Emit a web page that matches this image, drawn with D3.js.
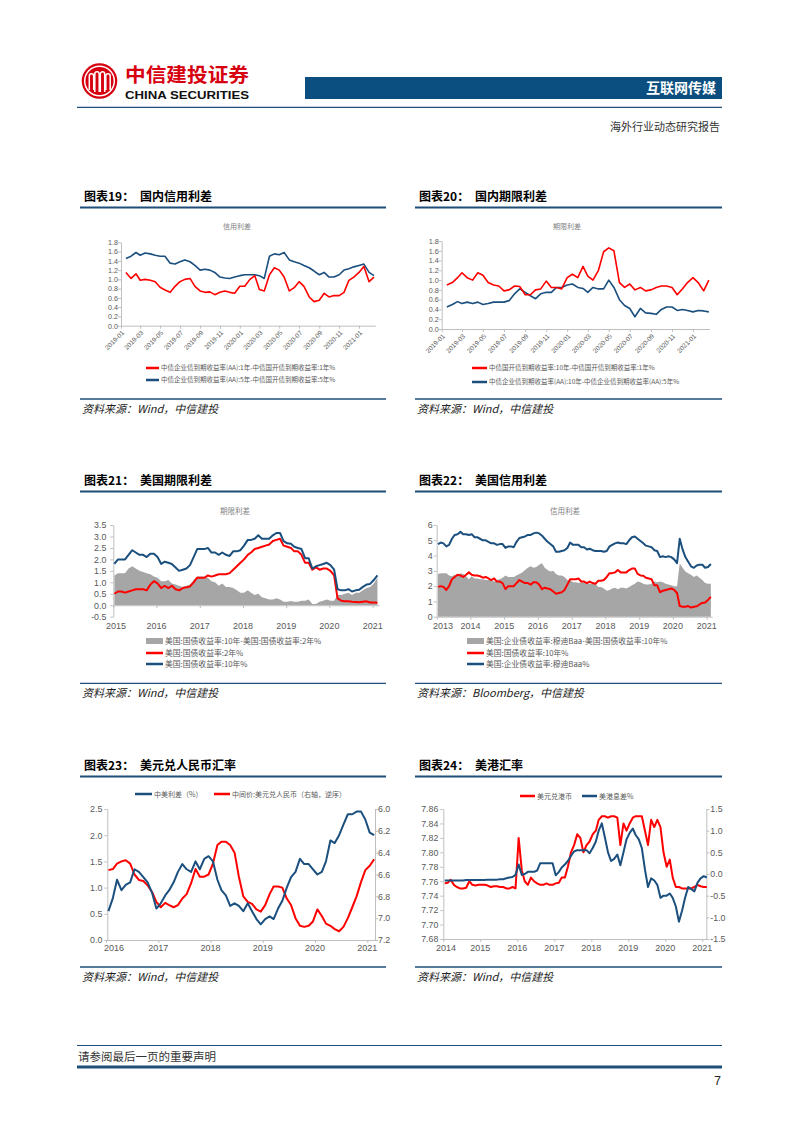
<!DOCTYPE html>
<html><head><meta charset="utf-8">
<script src="https://cdn.jsdelivr.net/npm/d3@7"></script>
<style>body{margin:0;background:#fff;} svg{display:block;}</style>
</head><body>
<script>
// ---------------- DATA ----------------
// Chart 19: domestic credit spread (semi-monthly from 2019-01-16)
const cs1y = [1.15,1.02,1.12,0.98,1.00,0.98,0.95,0.83,0.77,0.72,0.85,0.95,1.00,1.02,0.85,0.75,0.72,0.73,0.67,0.72,0.75,0.72,0.70,0.85,0.85,1.00,1.08,0.78,0.75,1.10,1.25,1.20,1.05,0.75,0.82,0.95,0.85,0.62,0.52,0.55,0.70,0.62,0.65,0.65,0.72,0.98,1.05,1.15,1.28,0.95,1.05];
const cs5y = [1.45,1.50,1.58,1.52,1.57,1.55,1.52,1.50,1.50,1.35,1.33,1.38,1.42,1.38,1.30,1.20,1.22,1.20,1.15,1.05,1.03,1.02,1.05,1.08,1.10,1.10,1.10,1.08,1.02,1.50,1.55,1.53,1.58,1.42,1.38,1.35,1.30,1.25,1.18,1.10,1.15,1.05,1.05,1.10,1.20,1.23,1.27,1.30,1.33,1.15,1.08];
// Chart 20: domestic term spread (semi-monthly from 2019-01-16)
const tsCdb = [0.90,0.95,1.05,1.15,1.05,1.00,1.15,1.10,0.95,0.90,0.88,0.78,0.80,0.88,0.87,0.70,0.70,0.80,0.82,0.98,0.85,0.85,0.82,1.05,1.12,1.05,1.28,1.08,1.00,1.20,1.58,1.66,1.60,0.95,0.85,0.92,0.80,0.85,0.78,0.80,0.85,0.88,0.88,0.85,0.70,0.82,0.95,1.05,0.95,0.78,1.00];
const tsAA  = [0.45,0.50,0.56,0.52,0.55,0.52,0.55,0.50,0.52,0.55,0.55,0.55,0.58,0.72,0.82,0.75,0.68,0.62,0.72,0.75,0.75,0.85,0.85,0.90,0.92,0.85,0.83,0.75,0.85,0.82,0.82,1.00,0.85,0.60,0.48,0.42,0.25,0.42,0.33,0.32,0.30,0.40,0.45,0.45,0.38,0.40,0.38,0.35,0.38,0.37,0.35];
// Chart 21: US term spread (monthly 2015-01 .. 2021-02)
const us10y = [1.8,2.0,2.0,2.0,2.2,2.4,2.3,2.2,2.2,2.1,2.25,2.25,
 2.1,1.8,1.9,1.85,1.8,1.65,1.5,1.55,1.6,1.75,2.1,2.45,
 2.45,2.45,2.5,2.3,2.3,2.2,2.3,2.2,2.15,2.35,2.35,2.4,
 2.6,2.85,2.85,2.9,3.05,2.9,2.9,2.9,3.05,3.15,3.15,2.8,
 2.7,2.68,2.55,2.5,2.45,2.05,2.05,1.6,1.7,1.75,1.8,1.85,
 1.75,1.55,0.7,0.65,0.65,0.7,0.6,0.65,0.68,0.8,0.9,0.93,
 1.1,1.3];
const us2y = [0.5,0.6,0.6,0.55,0.6,0.65,0.7,0.7,0.7,0.65,0.9,1.05,
 0.95,0.75,0.85,0.75,0.85,0.7,0.65,0.75,0.78,0.82,1.0,1.2,
 1.2,1.2,1.3,1.25,1.3,1.35,1.35,1.35,1.4,1.55,1.7,1.85,
 2.0,2.2,2.3,2.45,2.5,2.55,2.6,2.65,2.8,2.85,2.9,2.6,
 2.55,2.5,2.35,2.35,2.2,1.85,1.85,1.55,1.65,1.55,1.6,1.6,
 1.5,1.3,0.3,0.2,0.17,0.17,0.15,0.14,0.13,0.15,0.17,0.12,
 0.12,0.11];
const us10y2ySpread = [1.3,1.4,1.4,1.4,1.6,1.7,1.6,1.5,1.45,1.4,1.35,1.25,
 1.2,1.05,1.05,1.1,0.95,0.9,0.85,0.8,0.85,0.9,1.1,1.25,
 1.25,1.25,1.2,1.05,1.0,0.85,0.95,0.8,0.8,0.75,0.65,0.55,
 0.55,0.65,0.55,0.45,0.5,0.35,0.3,0.25,0.25,0.3,0.25,0.15,
 0.15,0.18,0.15,0.15,0.2,0.2,0.25,0.05,0.05,0.15,0.2,0.25,
 0.2,0.2,0.45,0.45,0.5,0.55,0.45,0.55,0.55,0.65,0.75,0.8,
 0.95,1.2];
// Chart 22: US credit spread (monthly 2013-01 .. 2021-02)
const us10y1314 = [1.95,2.0,1.95,1.75,2.0,2.45,2.6,2.75,2.7,2.6,2.75,2.9,
 2.75,2.7,2.7,2.65,2.55,2.6,2.5,2.4,2.5,2.3,2.3,2.2];
const baa = [4.75,4.85,4.8,4.6,4.7,5.1,5.35,5.4,5.55,5.4,5.4,5.35,
 5.4,5.2,5.2,5.1,5.0,5.0,4.9,4.8,4.8,4.7,4.75,4.75,
 4.5,4.6,4.6,4.55,4.9,5.15,5.2,5.25,5.35,5.35,5.45,5.5,
 5.45,5.3,5.1,4.9,4.75,4.6,4.25,4.25,4.3,4.35,4.5,4.85,
 4.7,4.7,4.7,4.55,4.55,4.4,4.45,4.35,4.3,4.3,4.3,4.25,
 4.3,4.6,4.7,4.8,4.85,4.8,4.8,4.75,5.0,5.2,5.25,5.1,
 4.95,4.8,4.65,4.6,4.55,4.35,4.3,3.9,3.95,3.9,3.95,3.9,
 3.75,3.5,5.1,4.4,3.9,3.6,3.3,3.2,3.35,3.4,3.4,3.2,
 3.25,3.45];
const baaSpread = [2.8,2.85,2.85,2.85,2.7,2.65,2.75,2.65,2.85,2.8,2.65,2.45,
 2.65,2.5,2.5,2.45,2.45,2.4,2.4,2.4,2.3,2.4,2.45,2.55,
 2.7,2.6,2.6,2.6,2.7,2.8,2.9,3.05,3.2,3.3,3.2,3.25,
 3.4,3.5,3.2,3.05,2.95,3.0,2.8,2.7,2.7,2.6,2.4,2.4,
 2.25,2.25,2.2,2.25,2.25,2.2,2.15,2.15,2.15,1.95,1.95,1.85,
 1.7,1.75,1.85,1.9,1.8,1.9,1.9,1.85,1.95,2.05,2.15,2.3,
 2.25,2.15,2.1,2.1,2.15,2.3,2.25,2.3,2.25,2.15,2.1,2.05,
 2.0,2.0,3.5,3.2,2.95,2.85,2.75,2.6,2.7,2.55,2.4,2.2,
 2.15,2.15];
// Chart 23: China-US spread & USD/CNY (monthly 2016-01 .. 2021-02)
const cnUsSpread = [0.55,0.8,1.15,0.95,1.05,1.1,1.35,1.3,1.2,1.1,0.9,0.6,
 0.7,0.85,0.95,1.1,1.3,1.45,1.35,1.3,1.5,1.35,1.55,1.6,
 1.5,1.15,0.95,0.85,0.65,0.7,0.65,0.55,0.7,0.55,0.4,0.3,
 0.4,0.45,0.4,0.6,0.75,1.0,1.2,1.3,1.55,1.45,1.45,1.35,
 1.25,1.3,1.5,1.9,1.85,2.0,2.2,2.4,2.4,2.45,2.45,2.3,
 2.05,2.0];
const usdcny = [6.56,6.55,6.5,6.48,6.47,6.5,6.6,6.65,6.66,6.7,6.76,6.85,
 6.9,6.86,6.88,6.9,6.88,6.82,6.78,6.68,6.55,6.62,6.62,6.6,
 6.5,6.33,6.3,6.3,6.33,6.4,6.62,6.8,6.85,6.87,6.92,6.94,
 6.88,6.78,6.71,6.71,6.72,6.82,6.88,7.0,7.07,7.08,7.07,7.03,
 6.92,6.98,7.05,7.07,7.1,7.12,7.08,7.0,6.9,6.8,6.67,6.56,
 6.52,6.46];
// Chart 24: USD/HKD & US-HK spread (monthly 2014-01 .. 2021-02)
const usdhkd = [7.757,7.758,7.762,7.755,7.752,7.75,7.75,7.751,7.76,7.755,7.754,7.755,
 7.755,7.755,7.754,7.752,7.753,7.753,7.752,7.752,7.75,7.75,7.752,7.75,
 7.82,7.775,7.76,7.755,7.765,7.76,7.757,7.755,7.755,7.757,7.755,7.755,
 7.757,7.758,7.765,7.765,7.78,7.8,7.81,7.825,7.82,7.8,7.81,7.815,
 7.825,7.83,7.845,7.85,7.85,7.848,7.85,7.85,7.848,7.81,7.84,7.83,
 7.84,7.848,7.85,7.85,7.85,7.83,7.81,7.845,7.835,7.845,7.835,7.8,
 7.78,7.79,7.765,7.752,7.752,7.75,7.75,7.75,7.75,7.752,7.755,7.753,
 7.752,7.752];
const usHkSpread = [-0.15,-0.15,-0.15,-0.15,-0.15,-0.15,-0.15,-0.14,-0.14,-0.14,-0.14,-0.14,
 -0.14,-0.14,-0.13,-0.13,-0.13,-0.13,-0.12,-0.12,-0.1,-0.08,-0.07,-0.02,
 0.22,-0.02,0.0,0.05,0.05,0.05,0.08,0.25,0.25,0.25,0.25,0.25,
 -0.03,0.05,0.15,0.22,0.3,0.42,0.52,0.55,0.55,0.55,0.55,0.48,
 0.6,0.75,1.0,1.17,0.85,0.5,0.3,0.35,0.45,0.2,0.5,0.8,
 0.95,1.05,0.9,0.8,0.6,0.1,-0.3,-0.1,-0.15,-0.25,-0.55,-0.5,
 -0.5,-0.45,-0.55,-0.75,-1.1,-0.85,-0.55,-0.3,-0.35,-0.4,-0.2,-0.1,
 -0.05,-0.08];

// Tick labels
const ticks19y = [0,0.2,0.4,0.6,0.8,1.0,1.2,1.4,1.6,1.8];
const ticks21y = [-0.5,0,0.5,1,1.5,2,2.5,3,3.5];
const ticks22y = [0,1,2,3,4,5,6];
const ticks23L = [0,0.5,1,1.5,2,2.5];
const ticks23R = [6.0,6.2,6.4,6.6,6.8,7.0,7.2];
const ticks24L = [7.68,7.70,7.72,7.74,7.76,7.78,7.80,7.82,7.84,7.86];
const ticks24R = [-1.5,-1.0,-0.5,0,0.5,1.0,1.5];

// ---------------- HELPERS ----------------
const CJK = "'Noto Sans CJK SC','Noto Sans',sans-serif";
const NUM = "'Liberation Sans',Arial,sans-serif";
const RED = "#ff0000", BLUE = "#1b4f7e", GRAY = "#a6a6a6", NAVY = "#1f4e79";
const svg = d3.select("body").append("svg").attr("width",802).attr("height",1133);
svg.append("rect").attr("width",802).attr("height",1133).attr("fill","#fff");

function semiMonthly(y,m,n){ return d3.range(n).map(i=>{const k=i+1; return new Date(y, m+Math.floor(k/2), k%2?16:1);}); }
function monthly(y,m,day,n){ return d3.range(n).map(i=>new Date(y,m+i,day)); }
function tscale(dA,pA,dB,pB,dEnd){ const k=(pB-pA)/(dB-dA); return d3.scaleTime().domain([dA,dEnd]).range([pA,pA+(dEnd-dA)*k]); }
const fmt = f => v => d3.format(f)(v).replace("\u2212","-");

function line(dates, vals, x, y, color, w){
  svg.append("path").datum(vals)
    .attr("d", d3.line().x((d,i)=>x(dates[i])).y(d=>y(d)))
    .attr("fill","none").attr("stroke",color).attr("stroke-width",w).attr("stroke-linejoin","round");
}
function area(dates, vals, x, y, color){
  svg.append("path").datum(vals)
    .attr("d", d3.area().x((d,i)=>x(dates[i])).y0(y(0)).y1(d=>y(d)))
    .attr("fill",color);
}
function styleAxis(g, fs){
  g.select(".domain").attr("stroke","#bfbfbf");
  g.selectAll(".tick line").attr("stroke","#bfbfbf");
  g.selectAll("text").attr("fill","#595959").style("font-family",NUM).style("font-size",fs+"px");
}
function yAxis(x0, scale, ticks, f, fs, pad, right){
  const ax = (right? d3.axisRight(scale) : d3.axisLeft(scale)).tickValues(ticks).tickFormat(fmt(f)).tickSize(3).tickSizeOuter(0).tickPadding(pad);
  const g = svg.append("g").attr("transform",`translate(${x0},0)`).call(ax);
  styleAxis(g, fs); return g;
}
function xAxis(y0, scale, ticks){
  const g = svg.append("g").attr("transform",`translate(0,${y0})`)
    .call(d3.axisBottom(scale).tickValues(ticks).tickFormat("").tickSize(3).tickSizeOuter(0));
  styleAxis(g, 8); return g;
}
function xLabels(scale, ticks, y, fs, f, minX){
  svg.append("g").selectAll("text").data(ticks).join("text")
    .attr("x", d=>Math.max(scale(d), minX||0)).attr("y", y).attr("text-anchor","middle")
    .attr("fill","#595959").style("font-family",NUM).style("font-size",fs+"px").text(f);
}
function rotLabels(scale, ticks, y, fs){
  svg.append("g").selectAll("text").data(ticks).join("text")
    .attr("transform", d=>`translate(${scale(d)+2},${y}) rotate(-45)`)
    .attr("text-anchor","end").attr("dy","0.35em")
    .attr("fill","#595959").style("font-family",NUM).style("font-size",fs+"px")
    .text(d3.timeFormat("%Y-%m"));
}
function text(x,y,s,opt={}){
  const t = svg.append("text").attr("x",x).attr("y",y).text(s)
    .style("font-family",opt.font||CJK).style("font-size",(opt.size||10)+"px")
    .attr("fill",opt.fill||"#000").attr("text-anchor",opt.anchor||"start");
  if(opt.weight) t.style("font-weight",opt.weight);
  if(opt.italic) t.style("font-style","italic");
  return t;
}
function hline(x1,x2,y,w,c){ svg.append("line").attr("x1",x1).attr("x2",x2).attr("y1",y).attr("y2",y).attr("stroke",c||NAVY).attr("stroke-width",w); }
function legLine(x,y,c,label,fs,len){ svg.append("line").attr("x1",x).attr("x2",x+len).attr("y1",y).attr("y2",y).attr("stroke",c).attr("stroke-width",2.5);
  text(x+len+2, y+fs*0.36, label, {size:fs, fill:"#595959"}); }
function legRect(x,y,c,label,fs,len){ svg.append("rect").attr("x",x).attr("y",y-3).attr("width",len).attr("height",6).attr("fill",c);
  text(x+len+2, y+fs*0.36, label, {size:fs, fill:"#595959"}); }
function section(xL, xR, yTitle, num, name, ySrc, src){
  text(xL+4, yTitle, "图表"+num+"：", {size:12, weight:"bold"});
  text(xL+60, yTitle, name, {size:12, weight:"bold"});
  hline(xL, xR, yTitle+6.5, 1.8);
  hline(xL, xR, ySrc, 1.3);
  text(xL+2, ySrc+14, src, {size:11, italic:true, fill:"#222"});
}

// ---------------- HEADER ----------------
const logo = svg.append("g");
const lc = {x:99.5, y:81, r:17.8};
logo.append("circle").attr("cx",lc.x).attr("cy",lc.y).attr("r",lc.r).attr("fill","#d7000f");
logo.append("circle").attr("cx",lc.x).attr("cy",lc.y).attr("r",lc.r-3).attr("fill","none").attr("stroke","#fff").attr("stroke-width",1.5);
// stylised white arches
[[-8,9],[-2.5,11],[3,11],[8.5,9]].forEach(([dx,h])=>{
  logo.append("path").attr("d",`M${lc.x+dx-2.2},${lc.y+h} V${lc.y-h+4} a2.2,2.2 0 0 1 4.4,0 V${lc.y+h}`)
    .attr("fill","none").attr("stroke","#fff").attr("stroke-width",1.5);
});
text(125, 81.5, "中信建投证券", {size:19.5, weight:"bold", fill:"#d7000f"}).attr("textLength",124).attr("lengthAdjust","spacingAndGlyphs");
text(125, 98.5, "CHINA SECURITIES", {size:11, weight:"bold", font:NUM, fill:"#111"}).attr("textLength",124).attr("lengthAdjust","spacingAndGlyphs");
svg.append("rect").attr("x",305).attr("y",77).attr("width",417).attr("height",22).attr("fill","#0b4f80");
text(716, 93, "互联网传媒", {size:14, weight:"bold", fill:"#fff", anchor:"end"});
hline(77, 722, 107.3, 1.3);
text(720, 130.5, "海外行业动态研究报告", {size:11, fill:"#333", anchor:"end"});

// ---------------- CHART 19 ----------------
section(80, 386, 201, "19", "国内信用利差", 399, "资料来源：Wind，中信建投");
{
  const d = semiMonthly(2019,0,cs1y.length);
  const x = tscale(new Date(2019,0,1),121,new Date(2021,0,1),359,new Date(2021,1,20));
  const y = d3.scaleLinear().domain([0,1.8]).range([325.7,242.3]);
  text(237, 229, "信用利差", {size:7, fill:"#7f7f7f", anchor:"middle"});
  yAxis(121, y, ticks19y, ".1f", 7.2, 0);
  const xt = d3.range(0,25,2).map(m=>new Date(2019,m,1));
  xAxis(y(0), x, xt);
  rotLabels(x, xt, y(0)+6, 6.5);
  line(d, cs5y, x, y, BLUE, 1.6);
  line(d, cs1y, x, y, RED, 1.6);
  legLine(146, 368, RED, "中债企业债到期收益率(AA):1年-中债国开债到期收益率:1年%", 6.5, 13);
  legLine(146, 380, BLUE, "中债企业债到期收益率(AA):5年-中债国开债到期收益率:5年%", 6.5, 13);
}
// ---------------- CHART 20 ----------------
section(415, 722, 201, "20", "国内期限利差", 399, "资料来源：Wind，中信建投");
{
  const d = semiMonthly(2019,0,tsCdb.length);
  const x = tscale(new Date(2019,0,1),441.7,new Date(2021,0,1),693,new Date(2021,1,18));
  const y = d3.scaleLinear().domain([0,1.8]).range([329,241]);
  text(567, 229, "期限利差", {size:7, fill:"#7f7f7f", anchor:"middle"});
  yAxis(441.7, y, ticks19y, ".1f", 7.2, 0);
  const xt = d3.range(0,25,2).map(m=>new Date(2019,m,1));
  xAxis(y(0), x, xt);
  rotLabels(x, xt, y(0)+6, 6.5);
  line(d, tsAA, x, y, BLUE, 1.6);
  line(d, tsCdb, x, y, RED, 1.6);
  legLine(472, 368, RED, "中债国开债到期收益率:10年-中债国开债到期收益率:1年%", 6.5, 15);
  legLine(472, 382, BLUE, "中债企业债到期收益率(AA):10年-中债企业债到期收益率(AA):5年%", 6.5, 15);
}
// ---------------- CHART 21 ----------------
section(80, 386, 485, "21", "美国期限利差", 683.3, "资料来源：Wind，中信建投");
{
  const d = monthly(2015,0,10,us10y.length);
  const x = tscale(new Date(2015,0,1),113.3,new Date(2021,0,1),372.7,new Date(2021,1,24));
  const y = d3.scaleLinear().domain([-0.5,3.5]).range([616.7,525]);
  text(235, 514, "期限利差", {size:7.5, fill:"#7f7f7f", anchor:"middle"});
  area(d, us10y2ySpread, x, y, GRAY);
  yAxis(113.3, y, ticks21y, ".1f", 8.8, 4);
  const xt = d3.range(2015,2022).map(yr=>new Date(yr,0,1));
  xAxis(y(0), x, xt);
  xLabels(x, xt, 629, 9, d=>d.getFullYear(), 116);
  line(d, us2y, x, y, RED, 2);
  line(d, us10y, x, y, BLUE, 2);
  legRect(146, 641, GRAY, "美国:国债收益率:10年-美国:国债收益率:2年%", 7.8, 17);
  legLine(146, 653, RED, "美国:国债收益率:2年%", 7.8, 17);
  legLine(146, 664, BLUE, "美国:国债收益率:10年%", 7.8, 17);
}
// ---------------- CHART 22 ----------------
section(415, 722, 485, "22", "美国信用利差", 683.3, "资料来源：Bloomberg，中信建投");
{
  const us10yAll = us10y1314.concat(us10y);
  const d = monthly(2013,0,15,baa.length);
  const x = tscale(new Date(2013,0,1),436.7,new Date(2021,0,1),706.7,new Date(2021,2,1));
  const y = d3.scaleLinear().domain([0,6]).range([616.7,525]);
  text(565, 514, "信用利差", {size:7.5, fill:"#7f7f7f", anchor:"middle"});
  area(d, baaSpread, x, y, GRAY);
  yAxis(436.7, y, ticks22y, "d", 8.8, 1);
  const xt = d3.range(2013,2022).map(yr=>new Date(yr,0,1));
  xAxis(y(0), x, xt);
  xLabels(x, xt, 629, 9, d=>d.getFullYear(), 443);
  line(d, us10yAll, x, y, RED, 2);
  line(d, baa, x, y, BLUE, 2);
  legRect(467, 641, GRAY, "美国:企业债收益率:穆迪Baa-美国:国债收益率:10年%", 7.8, 17);
  legLine(467, 653, RED, "美国:国债收益率:10年%", 7.8, 17);
  legLine(467, 664, BLUE, "美国:企业债收益率:穆迪Baa%", 7.8, 17);
}
// ---------------- CHART 23 ----------------
section(80, 386, 770, "23", "美元兑人民币汇率", 967, "资料来源：Wind，中信建投");
{
  const d = monthly(2016,0,18,cnUsSpread.length);
  const x = tscale(new Date(2016,0,1),106,new Date(2021,0,1),367.3,new Date(2021,1,20));
  const yL = d3.scaleLinear().domain([0,2.5]).range([940,809]);
  const yR = d3.scaleLinear().domain([6.0,7.2]).range([809,940]);
  yAxis(107.3, yL, ticks23L, ".1f", 8.8, 2);
  yAxis(375, yR, ticks23R, ".1f", 8.8, 0, true);
  const xt = d3.range(2016,2022).map(yr=>new Date(yr,0,1));
  xAxis(940, x, xt);
  xLabels(x, xt, 951, 9, d=>d.getFullYear(), 114);
  line(d, usdcny, x, yR, RED, 2);
  line(d, cnUsSpread, x, yL, BLUE, 2);
  legLine(135, 794, BLUE, "中美利差（%）", 7, 17);
  legLine(214, 794, RED, "中间价:美元兑人民币（右轴，逆序）", 7, 16);
}
// ---------------- CHART 24 ----------------
section(415, 722, 770, "24", "美港汇率", 967, "资料来源：Wind，中信建投");
{
  const d = monthly(2014,0,15,usdhkd.length);
  const x = tscale(new Date(2014,0,1),443.3,new Date(2021,0,1),702.3,new Date(2021,1,10));
  const yL = d3.scaleLinear().domain([7.68,7.86]).range([939,809]);
  const yR = d3.scaleLinear().domain([-1.5,1.5]).range([939,809]);
  yAxis(443.3, yL, ticks24L, ".2f", 8.8, 2);
  yAxis(x.range()[1], yR, ticks24R, ".1f", 8.8, 1, true);
  const xt = d3.range(2014,2022).map(yr=>new Date(yr,0,1));
  xAxis(939, x, xt);
  xLabels(x, xt, 951, 9, d=>d.getFullYear(), 446);
  line(d, usdhkd, x, yL, RED, 2);
  line(d, usHkSpread, x, yR, BLUE, 2);
  legLine(520, 796, RED, "美元兑港币", 7, 15);
  legLine(582, 796, BLUE, "美港息差%", 7, 15);
}
// ---------------- FOOTER ----------------
hline(77, 722, 1045.5, 1);
text(78, 1061, "请参阅最后一页的重要声明", {size:11.5, fill:"#333"});
hline(77, 722, 1067, 3);
text(721, 1085, "7", {size:12, fill:"#222", anchor:"end", font:NUM});
</script>
</body></html>
